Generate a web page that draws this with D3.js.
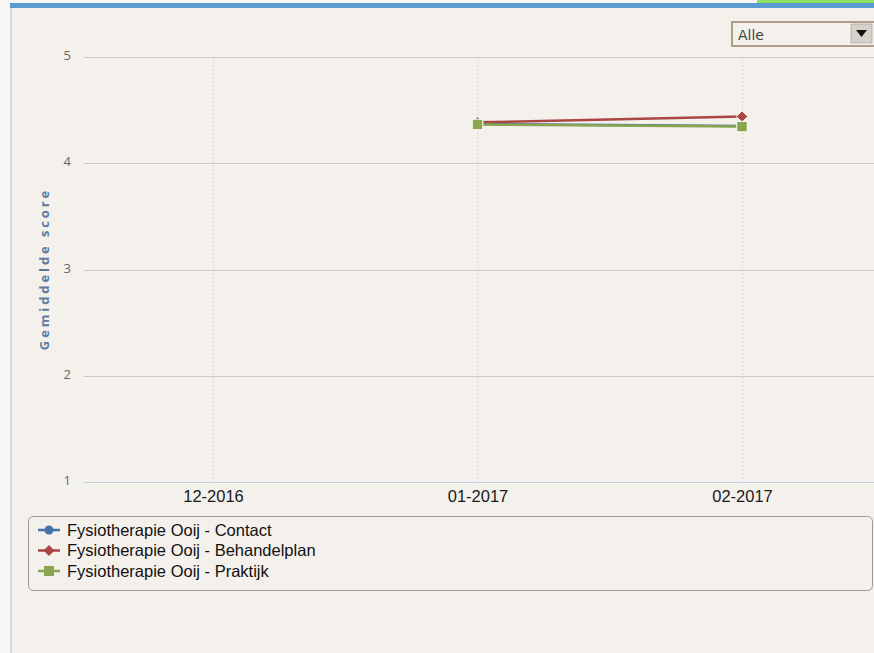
<!DOCTYPE html>
<html>
<head>
<meta charset="utf-8">
<script src="https://cdn.jsdelivr.net/npm/d3@7"></script>
<style>
	body { margin: 0; background: #f7f7f7; }
	svg { display: block; }
</style>
</head>
<body>
<div id="chart"></div>
<script>
// data ///////////////////////////////////////////////////////////////
var months = ['12-2016', '01-2017', '02-2017'];
var yTicks = [1, 2, 3, 4, 5];
var seriesNames = ['Fysiotherapie Ooij - Contact', 'Fysiotherapie Ooij - Behandelplan', 'Fysiotherapie Ooij - Praktijk'];
var contactVals = [null, 4.37, 4.35];
var behandelVals = [null, 4.385, 4.44];
var praktijkVals = [null, 4.365, 4.345];

var colors = ['#4572a7', '#aa4643', '#89a54e'];
var symbols = ['circle', 'diamond', 'square'];

var width = 874, height = 653;
var arial = "'Liberation Sans', Arial, sans-serif";

var svg = d3.select('#chart').append('svg')
	.attr('width', width)
	.attr('height', height);

// panel background and frame
svg.append('rect').attr('x', 0).attr('y', 0).attr('width', width).attr('height', height).attr('fill', '#f7f7f7');
svg.append('rect').attr('x', 12).attr('y', 3).attr('width', width - 12).attr('height', height - 3).attr('fill', '#f4f0ec');
svg.append('rect').attr('x', 10).attr('y', 3).attr('width', 2).attr('height', height - 3).attr('fill', '#d8d8d8');
svg.append('rect').attr('x', 10).attr('y', 3).attr('width', width - 10).attr('height', 5).attr('fill', '#5b9bd0');
svg.append('rect').attr('x', 757).attr('y', 0).attr('width', width - 757).attr('height', 3).attr('fill', '#8fe062');

// dropdown
var dd = svg.append('g');
dd.append('rect').attr('x', 732).attr('y', 22).attr('width', 150).attr('height', 24)
	.attr('fill', '#f4f0ec').attr('stroke', '#ad9f88').attr('stroke-width', 2);
dd.append('text').attr('x', 738).attr('y', 40)
	.style('font-family', "'DejaVu Sans', sans-serif").style('font-size', '14px').style('fill', '#444')
	.text('Alle');
dd.append('rect').attr('x', 851).attr('y', 24).attr('width', 21).attr('height', 19)
	.attr('fill', '#d6d2ca').attr('stroke', '#888').attr('stroke-width', 0.5);
dd.append('path').attr('d', 'M856,30 L867,30 L861.5,37 Z').attr('fill', '#111');

// scales
var x = d3.scalePoint().domain(months).range([213, 742]);
var y = d3.scaleLinear().domain([1, 5]).range([482, 57]);

// grid
var grid = svg.append('g');
grid.selectAll('.vgrid').data(months).enter().append('line')
	.attr('class', 'vgrid')
	.attr('x1', function(d) { return x(d) + 0.5; })
	.attr('x2', function(d) { return x(d) + 0.5; })
	.attr('y1', 57).attr('y2', 482)
	.attr('stroke', '#d8d8d8').attr('stroke-dasharray', '2,2');
grid.selectAll('.hgrid').data(yTicks.filter(function(d) { return d > 1; })).enter().append('line')
	.attr('class', 'hgrid')
	.attr('x1', 84).attr('x2', width)
	.attr('y1', function(d) { return Math.round(y(d)) + 0.5; })
	.attr('y2', function(d) { return Math.round(y(d)) + 0.5; })
	.attr('stroke', '#c8c8c8');
grid.append('line')
	.attr('x1', 84).attr('x2', width)
	.attr('y1', Math.round(y(1)) + 0.5).attr('y2', Math.round(y(1)) + 0.5)
	.attr('stroke', '#c0d0e0');

// axes
var yAxis = svg.append('g').attr('transform', 'translate(71,0)')
	.call(d3.axisLeft(y).tickValues(yTicks).tickSize(0).tickPadding(0).tickFormat(d3.format('d')));
yAxis.select('.domain').remove();
yAxis.selectAll('text')
	.attr('dy', '0.2em')
	.style('font-family', "'Open Sans', 'DejaVu Sans', sans-serif")
	.style('font-size', '13px')
	.style('fill', '#666');

var xAxis = svg.append('g').attr('transform', 'translate(0,482)')
	.call(d3.axisBottom(x).tickSize(0).tickPadding(5));
xAxis.select('.domain').remove();
xAxis.selectAll('text')
	.attr('dy', '0.9em')
	.style('font-family', arial)
	.style('font-size', '16.5px')
	.style('fill', '#1a1a1a');

// y title
svg.append('text')
	.attr('transform', 'translate(49,269) rotate(-90)')
	.attr('text-anchor', 'middle')
	.style('font-family', "'Open Sans', 'DejaVu Sans', sans-serif")
	.style('font-size', '13px').style('font-weight', 'bold')
	.style('letter-spacing', '2.9px').style('fill', '#5b7ba3')
	.text('Gemiddelde score');

// series
var series = [contactVals, behandelVals, praktijkVals].map(function(vals, i) {
	return { name: seriesNames[i], color: colors[i], symbol: symbols[i],
		points: vals.map(function(v, j) { return { month: months[j], value: v }; })
			.filter(function(p) { return p.value != null; }) };
});

function symbolPath(s, k) {
	k = k || 1;
	if (s == 'circle') return d3.symbol().type(d3.symbolCircle).size(70 * k)();
	if (s == 'diamond') return d3.symbol().type(d3.symbolDiamond2).size(85 * k)();
	return d3.symbol().type(d3.symbolSquare).size(110 * k)();
}

var line = d3.line()
	.x(function(d) { return x(d.month); })
	.y(function(d) { return y(d.value); });

var sg = svg.append('g').selectAll('.series').data(series).enter().append('g').attr('class', 'series');
sg.append('path')
	.attr('d', function(d) { return line(d.points); })
	.attr('fill', 'none')
	.attr('stroke', function(d) { return d.color; })
	.attr('stroke-width', 2.5);
sg.each(function(s) {
	d3.select(this).selectAll('.mk').data(s.points).enter().append('path')
		.attr('class', 'mk')
		.attr('transform', function(p) { return 'translate(' + x(p.month) + ',' + y(p.value) + ')'; })
		.attr('d', symbolPath(s.symbol))
		.attr('fill', s.color)
		.attr('stroke', '#fff').attr('stroke-width', 1);
});

// legend
var lg = svg.append('g');
lg.append('rect').attr('x', 28.5).attr('y', 516.5).attr('width', 844).attr('height', 74).attr('rx', 5)
	.attr('fill', 'none').attr('stroke', '#999').attr('stroke-width', 1);
var li = lg.selectAll('.lgitem').data(series).enter().append('g')
	.attr('class', 'lgitem')
	.attr('transform', function(d, i) { return 'translate(0,' + (530 + i * 20.5) + ')'; });
li.append('line').attr('x1', 38).attr('x2', 60).attr('y1', 0).attr('y2', 0)
	.attr('stroke', function(d) { return d.color; }).attr('stroke-width', 2.5);
li.append('path')
	.attr('transform', 'translate(49,0)')
	.attr('d', function(d) { return symbolPath(d.symbol, 0.9); })
	.attr('fill', function(d) { return d.color; });
li.append('text').attr('x', 67).attr('y', 5.5)
	.style('font-family', arial)
	.style('font-size', '16.5px')
	.style('fill', '#111')
	.text(function(d) { return d.name; });
</script>
</body>
</html>
